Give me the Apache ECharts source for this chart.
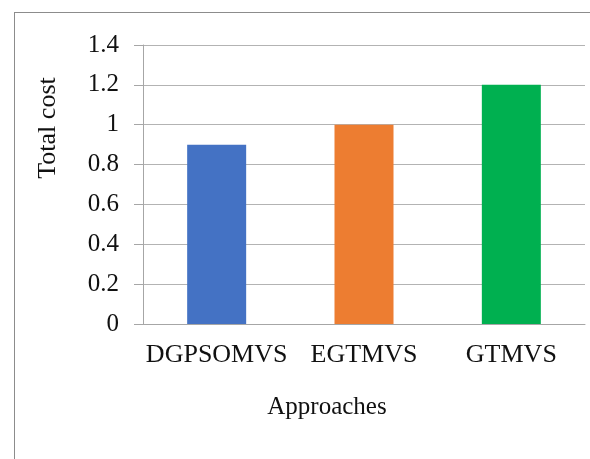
<!DOCTYPE html>
<html>
<head>
<meta charset="utf-8">
<script src="https://cdn.jsdelivr.net/npm/echarts@6/dist/echarts.min.js"></script>
<style>html,body{margin:0;padding:0;background:#fff;}#c{width:590px;height:459px;}</style>
</head>
<body>
<div id="c"></div>
<script>
var categories = ["DGPSOMVS", "EGTMVS", "GTMVS"];
var totalCost = [0.9, 1.0, 1.2];
var barColors = ["#4472C4", "#ED7D31", "#00B050"];
var yAxisTitle = "Total cost";
var xAxisTitle = "Approaches";

var FONT = "Liberation Serif";
var chart = echarts.init(document.getElementById('c'), null, {renderer: 'canvas'});
chart.setOption({
  animation: false,
  backgroundColor: '#fff',
  grid: {left: 143, right: 5, top: 45, bottom: 135, containLabel: false},
  xAxis: {
    type: 'category',
    data: categories,
    axisLine: {show: true, lineStyle: {color: '#A6A6A6', width: 1}},
    axisTick: {show: false},
    axisLabel: {interval: 0, hideOverlap: false, fontFamily: FONT, fontSize: 26, color: '#111', margin: 18}
  },
  yAxis: {
    type: 'value',
    min: 0, max: 1.4, interval: 0.2,
    axisLine: {show: true, lineStyle: {color: '#A6A6A6', width: 1}},
    axisTick: {show: true, length: 9, lineStyle: {color: '#A6A6A6'}},
    axisLabel: {fontFamily: FONT, fontSize: 25, color: '#111', margin: 24},
    splitLine: {show: true, lineStyle: {color: '#B3B3B3', width: 1}}
  },
  series: [{
    type: 'bar',
    barWidth: 59,
    data: totalCost.map(function (v, i) { return {value: v, itemStyle: {color: barColors[i]}}; })
  }],
  graphic: [
    {type: 'line', shape: {x1: 14.5, y1: 12, x2: 14.5, y2: 459}, style: {stroke: '#8C8C8C', lineWidth: 1}},
    {type: 'line', shape: {x1: 14, y1: 12.5, x2: 590, y2: 12.5}, style: {stroke: '#8C8C8C', lineWidth: 1}},
    {type: 'text', x: 48, y: 128, rotation: Math.PI / 2,
     style: {text: yAxisTitle, font: '26px "' + FONT + '"', fill: '#111', align: 'center', verticalAlign: 'middle'}},
    {type: 'text', x: 327, y: 407,
     style: {text: xAxisTitle, font: '25px "' + FONT + '"', fill: '#111', align: 'center', verticalAlign: 'middle'}}
  ]
});
</script>
</body>
</html>
